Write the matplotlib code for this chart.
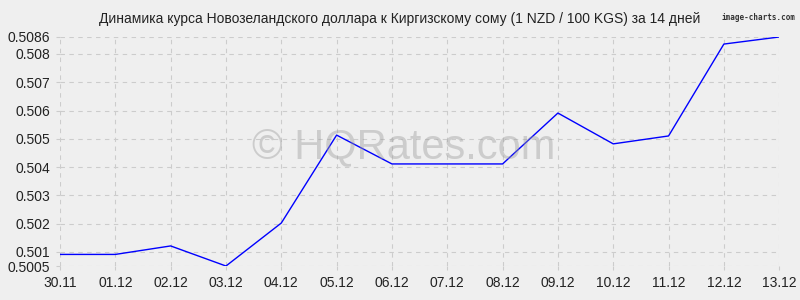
import numpy as np
import matplotlib.pyplot as plt

plt.rcParams['font.family'] = ['Liberation Sans', 'DejaVu Sans']

dates = ['30.11', '01.12', '02.12', '03.12', '04.12', '05.12', '06.12',
         '07.12', '08.12', '09.12', '10.12', '11.12', '12.12', '13.12']
rates = [0.50091, 0.50091, 0.50121, 0.5005, 0.50202, 0.50513, 0.50411,
         0.50411, 0.50411, 0.50591, 0.50482, 0.50510, 0.50835, 0.5086]
yticks = [0.5005, 0.501, 0.502, 0.503, 0.504, 0.505, 0.506, 0.507, 0.508, 0.5086]
ytick_labels = ['0.5005', '0.501', '0.502', '0.503', '0.504', '0.505', '0.506',
                '0.507', '0.508', '0.5086']

bg = '#efefef'
fig = plt.figure(figsize=(8, 3), dpi=100, facecolor=bg)
ax = fig.add_axes([0.075, 0.1133, 0.899, 0.7634], facecolor=bg)

x = np.arange(len(dates))
ax.plot(x, rates, color='#0000ff', linewidth=1)

ax.set_xlim(0, len(dates) - 1)
ax.set_ylim(yticks[0], yticks[-1])
ax.set_xticks(x)
ax.set_xticklabels(dates, fontsize=10)
ax.set_yticks(yticks)
ax.set_yticklabels(ytick_labels, fontsize=10)
ax.tick_params(length=3, color='#cccccc', pad=4, labelcolor='#222222')
for s in ax.spines.values():
    s.set_visible(False)
ax.grid(True, color='#cccccc', linestyle=(0, (4, 4)), linewidth=0.8)
ax.set_axisbelow(True)

fig.text(0.5, 0.935, 'Динамика курса Новозеландского доллара к Киргизскому сому (1 NZD / 100 KGS) за 14 дней',
         ha='center', va='center', fontsize=10, color='#222222')
fig.text(0.994, 0.943, 'image-charts.com', ha='right', va='center', fontsize=5.5,
         color='#333333', family='DejaVu Sans Mono', weight='bold')
fig.text(0.505, 0.51, '© HQRates.com', ha='center', va='center', fontsize=30,
         color='#999999', alpha=0.4)

fig.savefig('out.png', dpi=100, facecolor=bg)
